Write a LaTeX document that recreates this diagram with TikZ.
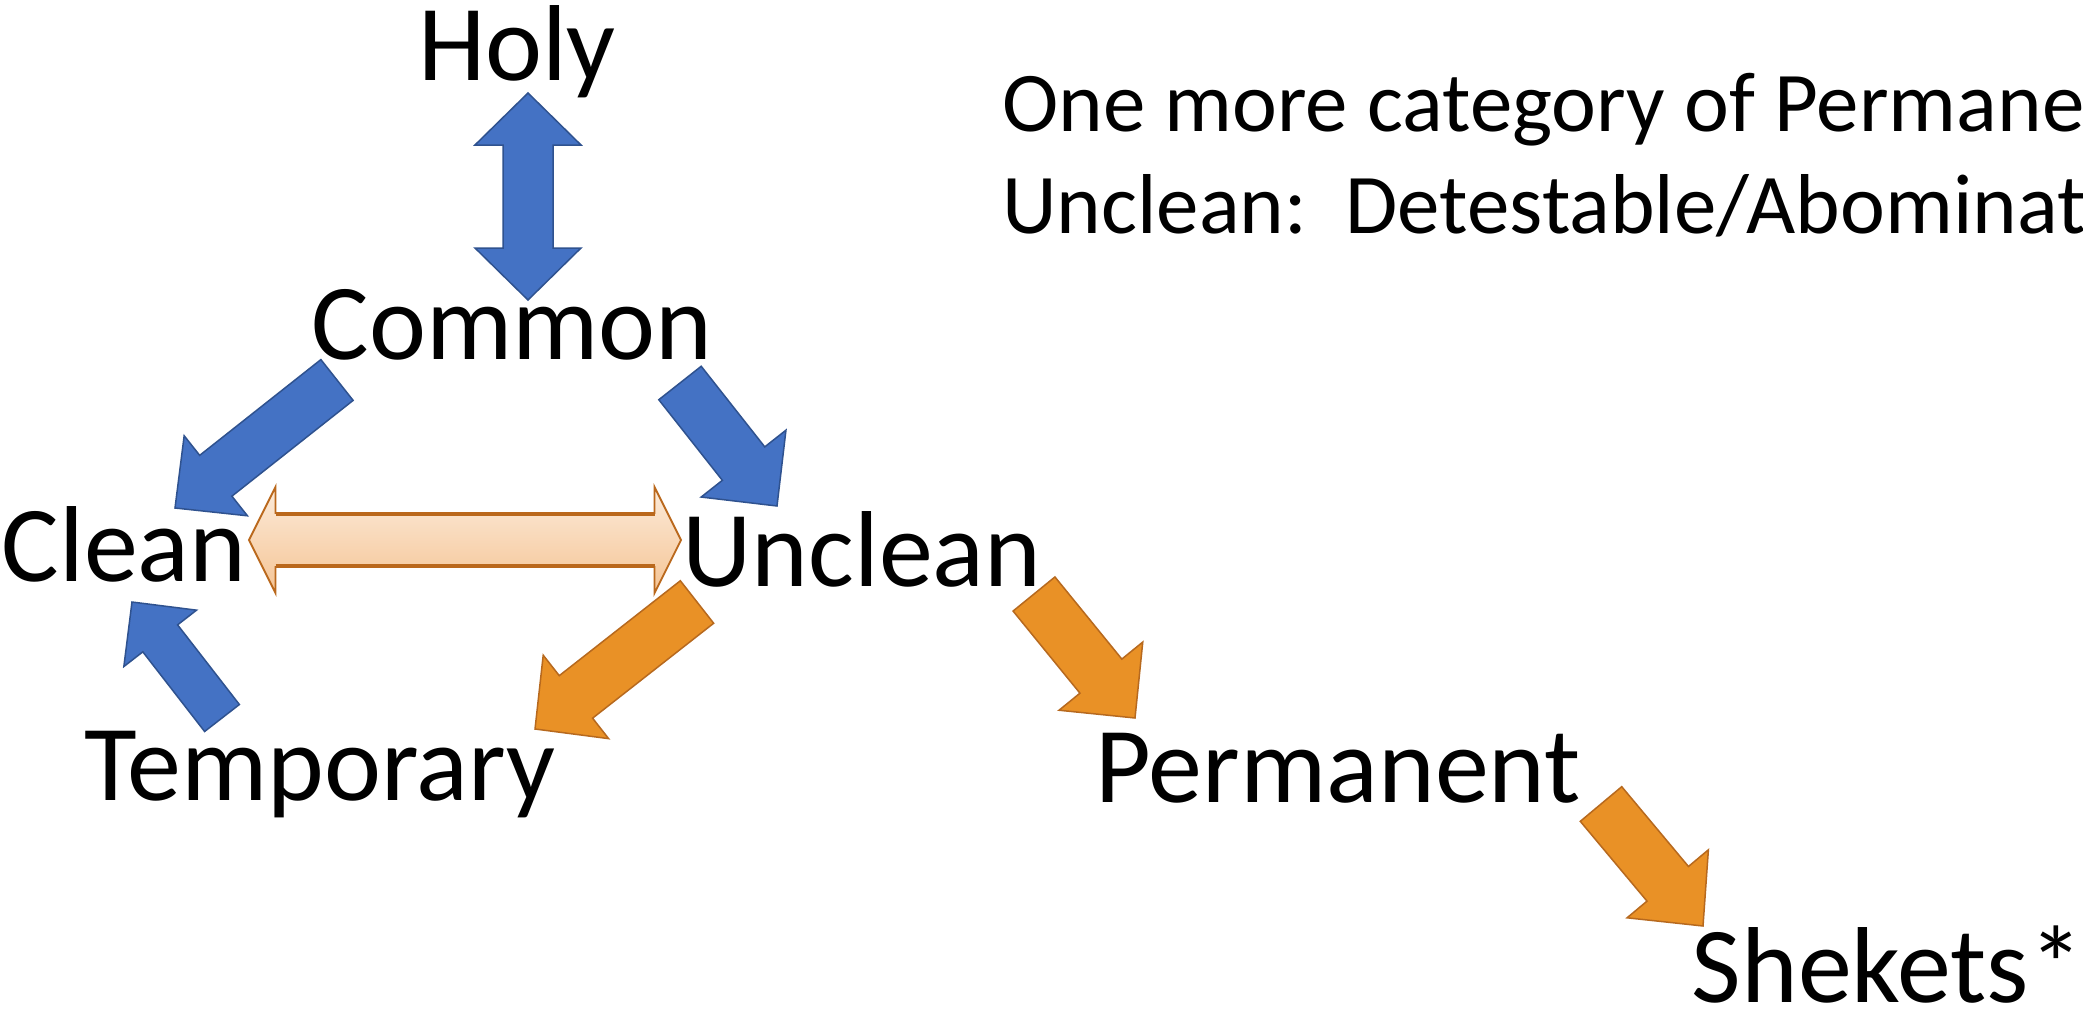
\documentclass[tikz,border=0pt]{standalone}
\usepackage{fontspec}
\setmainfont{Carlito}
\usetikzlibrary{calc}
\definecolor{bluefill}{RGB}{68,114,196}
\definecolor{blueline}{RGB}{47,82,143}
\definecolor{orfill}{RGB}{233,145,38}
\definecolor{orline}{RGB}{183,105,30}
\definecolor{peachtop}{RGB}{252,235,218}
\definecolor{peachbot}{RGB}{245,196,148}
\definecolor{peachline}{RGB}{186,104,28}
\newcommand{\blockarrow}[6]{%
  \coordinate (hb) at ($(#2)!#5!(#1)$);
  \draw[#6] ($(#1)!#3!90:(#2)$) -- ($(hb)!#3!-90:(#1)$) -- ($(hb)!#4!-90:(#1)$) -- (#2)
    -- ($(hb)!#4!90:(#1)$) -- ($(hb)!#3!90:(#1)$) -- ($(#1)!#3!-90:(#2)$) -- cycle;
}
\newcommand{\dblarrow}[6]{%
  \coordinate (hba) at ($(#1)!#5!(#2)$);
  \coordinate (hbb) at ($(#2)!#5!(#1)$);
  \draw[#6] (#1) -- ($(hba)!#4!90:(#2)$) -- ($(hba)!#3!90:(#2)$) -- ($(hbb)!#3!-90:(#1)$)
    -- ($(hbb)!#4!-90:(#1)$) -- (#2) -- ($(hbb)!#4!90:(#1)$) -- ($(hbb)!#3!90:(#1)$)
    -- ($(hba)!#3!-90:(#2)$) -- ($(hba)!#4!-90:(#2)$) -- cycle;
}
\tikzset{
  lbl/.style={inner sep=0pt, anchor=base, font=\fontsize{108}{130}\selectfont},
  notetxt/.style={inner sep=0pt, anchor=base west, font=\fontsize{85}{102}\selectfont},
  bluearr/.style={fill=bluefill, draw=blueline, line width=1.5pt, line join=miter},
  orarr/.style={fill=orfill, draw=orline, line width=1.5pt, line join=miter},
  peacharr/.style={top color=peachtop, bottom color=peachbot, draw=peachline, line width=1.8pt},
  peachedge/.style={draw=peachline, line width=4pt}
}
\begin{document}
\begin{tikzpicture}[x=1pt, y=-1pt]
  \useasboundingbox (0,0) rectangle (2083,1009);
  \clip (0,0) rectangle (2083,1009);
  \fill[white] (0,0) rectangle (2083,1009);

  % labels
  \node[lbl] (holy) at (517,80) {Holy};
  \node[lbl] (common) at (512,359) {Common};
  \node[lbl] (clean) at (124,581) {Clean};
  \node[lbl] (unclean) at (862,586) {Unclean};
  \node[lbl] (temporary) at (320,800) {Temporary};
  \node[lbl] (permanent) at (1338,802) {Permanent};
  \node[lbl, anchor=base east] (shekets) at (2083,1002) {Shekets*};
  \node[notetxt] (note1) at (1002,131) {One more category of Permane};
  \node[notetxt] (note2) at (1002,233) {Unclean:\ \ Detestable/Abominat};

  % arrow end points
  \coordinate (hcA) at (528,93);
  \coordinate (hcB) at (528,300);
  \coordinate (cuA) at (249,540);
  \coordinate (cuB) at (681,540);
  \coordinate (ccT) at (337,380);
  \coordinate (ccH) at (175,508);
  \coordinate (cuT) at (680,383);
  \coordinate (cuH) at (777,506);
  \coordinate (tcT) at (222,718);
  \coordinate (tcH) at (132,602);
  \coordinate (utT) at (697,602);
  \coordinate (utH) at (535,729);
  \coordinate (upT) at (1034,594);
  \coordinate (upH) at (1135,718);
  \coordinate (psT) at (1601,804);
  \coordinate (psH) at (1703,926);

  % Holy <-> Common
  \dblarrow{hcA}{hcB}{25pt}{53pt}{52pt}{bluearr}
  % Clean <-> Unclean
  \dblarrow{cuA}{cuB}{27pt}{53pt}{26.5pt}{peacharr}
  \draw[peachedge] ($(hba)!26pt!90:(hbb)$) -- ($(hbb)!26pt!-90:(hba)$);
  \draw[peachedge] ($(hba)!26pt!-90:(hbb)$) -- ($(hbb)!26pt!90:(hba)$);
  % Common -> Clean
  \blockarrow{ccT}{ccH}{26pt}{51pt}{52pt}{bluearr}
  % Common -> Unclean
  \blockarrow{cuT}{cuH}{27pt}{54pt}{54pt}{bluearr}
  % Temporary -> Clean
  \blockarrow{tcT}{tcH}{22pt}{46pt}{46pt}{bluearr}
  % Unclean -> Temporary
  \blockarrow{utT}{utH}{27pt}{53pt}{52pt}{orarr}
  % Unclean -> Permanent
  \blockarrow{upT}{upH}{27pt}{54pt}{54pt}{orarr}
  % Permanent -> Shekets
  \blockarrow{psT}{psH}{27pt}{53pt}{55pt}{orarr}
\end{tikzpicture}
\end{document}
